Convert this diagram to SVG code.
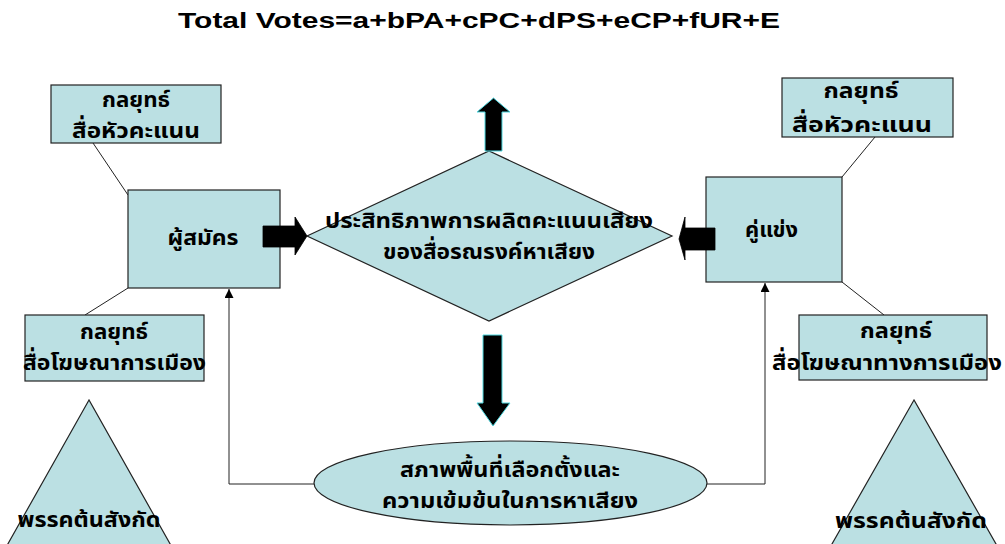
<svg xmlns="http://www.w3.org/2000/svg" width="1005" height="544" viewBox="0 0 1005 544">
<defs>
<style>
.box{fill:#BBE0E3;stroke:#222;stroke-width:1.2}
.th{font-family:"Noto Sans Thai","Noto Serif Thai","Liberation Serif",serif;font-weight:bold;font-size:22px;fill:#000;text-anchor:middle}
.ttl{font-family:"Liberation Sans",Arial,sans-serif;font-weight:bold;font-size:22px;fill:#000}
.ln{fill:none;stroke:#222;stroke-width:1}
.big{fill:#000;stroke:#000;stroke-width:0.8}
.bigc{fill:#000;stroke:#4FD8E0;stroke-width:1}
</style>
<marker id="ah" viewBox="0 0 10 10" refX="10" refY="5" markerWidth="9" markerHeight="9" markerUnits="userSpaceOnUse" orient="auto">
<path d="M0,0 L10,5 L0,10 Z" fill="#000"/>
</marker>
</defs>
<rect width="1005" height="544" fill="#fff"/>
<text class="ttl" x="178" y="28" textLength="602" lengthAdjust="spacingAndGlyphs">Total Votes=a+bPA+cPC+dPS+eCP+fUR+E</text>

<g id="connectors">
<line class="ln" x1="93" y1="143" x2="128" y2="195"/>
<line class="ln" x1="128" y1="288" x2="85" y2="315"/>
<line class="ln" x1="875" y1="137" x2="842" y2="177"/>
<line class="ln" x1="842" y1="282" x2="884" y2="315"/>
<polyline class="ln" points="314,484 229,484 229,289" marker-end="url(#ah)"/>
<polyline class="ln" points="707,484 765,484 765,283" marker-end="url(#ah)"/>
</g>

<g id="tri-left">
<polygon class="box" points="89,400 -4,565 182,565"/>
<text class="th" x="89" y="527" textLength="143" lengthAdjust="spacingAndGlyphs">พรรคต้นสังกัด</text>
</g>
<g id="tri-right">
<polygon class="box" points="914,400 820,565 1008,565"/>
<text class="th" x="911" y="528" textLength="152" lengthAdjust="spacingAndGlyphs">พรรคต้นสังกัด</text>
</g>

<g id="strategy-tl">
<rect class="box" x="51" y="85" width="170" height="58"/>
<text class="th" x="136" y="107" textLength="68" lengthAdjust="spacingAndGlyphs">กลยุทธ์</text>
<text class="th" x="136" y="138" textLength="128" lengthAdjust="spacingAndGlyphs">สื่อหัวคะแนน</text>
</g>
<g id="candidate">
<rect class="box" x="128" y="190" width="152" height="98"/>
<text class="th" x="203" y="245" textLength="71" lengthAdjust="spacingAndGlyphs">ผู้สมัคร</text>
</g>
<g id="strategy-bl">
<rect class="box" x="25" y="315" width="179" height="66"/>
<text class="th" x="114" y="339" textLength="68" lengthAdjust="spacingAndGlyphs">กลยุทธ์</text>
<text class="th" x="114.5" y="370" textLength="183" lengthAdjust="spacingAndGlyphs">สื่อโฆษณาการเมือง</text>
</g>

<g id="strategy-tr">
<rect class="box" x="782" y="78" width="171" height="59"/>
<text class="th" x="861" y="98" textLength="75" lengthAdjust="spacingAndGlyphs">กลยุทธ์</text>
<text class="th" x="862" y="132" textLength="140" lengthAdjust="spacingAndGlyphs">สื่อหัวคะแนน</text>
</g>
<g id="opponent">
<rect class="box" x="706" y="177" width="136" height="105"/>
<text class="th" x="771.5" y="237" textLength="53" lengthAdjust="spacingAndGlyphs">คู่แข่ง</text>
</g>
<g id="strategy-br">
<rect class="box" x="799" y="315" width="188" height="65"/>
<text class="th" x="896" y="338" textLength="72" lengthAdjust="spacingAndGlyphs">กลยุทธ์</text>
<text class="th" x="887" y="370" textLength="230" lengthAdjust="spacingAndGlyphs">สื่อโฆษณาทางการเมือง</text>
</g>

<g id="efficiency">
<polygon class="box" points="307,236 489,151 672,236 489,321"/>
<text class="th" x="489" y="228" textLength="328" lengthAdjust="spacingAndGlyphs">ประสิทธิภาพการผลิตคะแนนเสียง</text>
<text class="th" x="489" y="259" textLength="212" lengthAdjust="spacingAndGlyphs">ของสื่อรณรงค์หาเสียง</text>
</g>

<g id="area">
<ellipse class="box" cx="510.5" cy="483" rx="196.5" ry="42"/>
<text class="th" x="510" y="477" textLength="220" lengthAdjust="spacingAndGlyphs">สภาพพื้นที่เลือกตั้งและ</text>
<text class="th" x="510" y="508" textLength="256" lengthAdjust="spacingAndGlyphs">ความเข้มข้นในการหาเสียง</text>
</g>

<g id="block-arrows">
<polygon class="bigc" points="485,151 485,112 477,112 493.5,98 510,112 502,112 502,151"/>
<polygon class="bigc" points="483,335 502,335 502,403 510,403 493,426 477,403 483,403"/>
<polygon class="big" points="263,226 295,226 295,217 307,236 295,255 295,247 263,247"/>
<polygon class="big" points="715,228 685,228 685,217 679,239 685,260 685,250 715,250"/>
</g>
</svg>
